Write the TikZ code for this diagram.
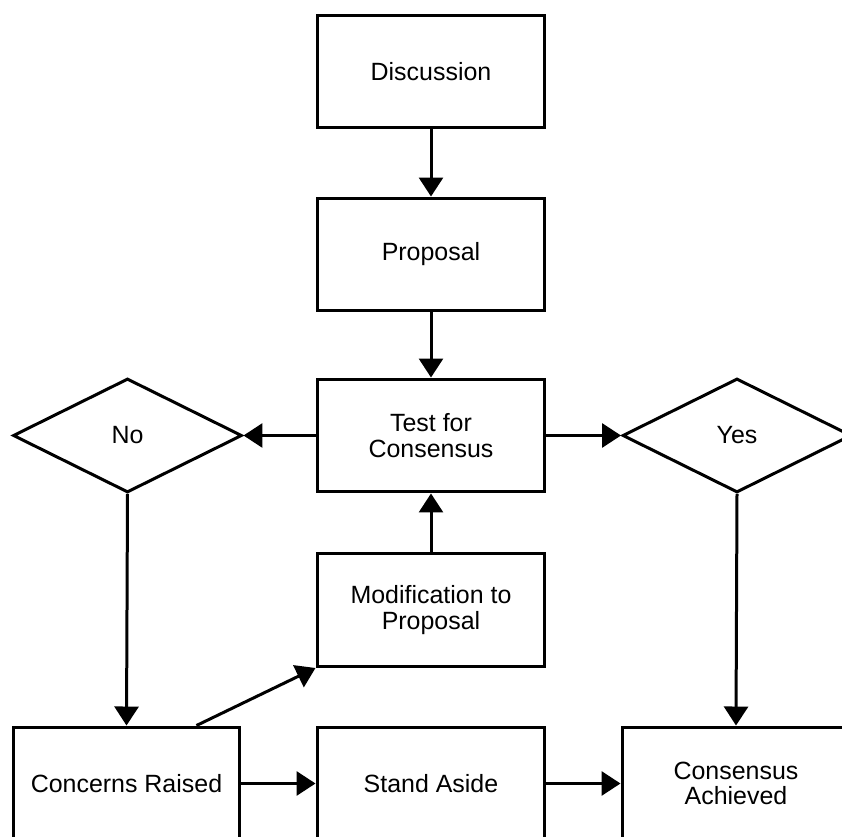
\documentclass[tikz,border=0pt]{standalone}
\usepackage{fontspec}
\setmainfont{Liberation Sans}
\usepackage{tikz}
\usetikzlibrary{positioning,shapes.geometric,arrows.meta}

\tikzset{
    stepbox/.style={draw=black, line width=0.06cm, fill=white, align=center,
        minimum width=4.56cm, minimum height=2.26cm, inner sep=2pt},
    choice/.style={draw=black, line width=0.06cm, fill=white, diamond, aspect=2,
        minimum width=4.58cm, minimum height=2.28cm, inner sep=1pt},
    flow/.style={line width=0.06cm, -{Triangle[length=0.38cm, width=0.48cm]}}
}

\begin{document}
\begin{tikzpicture}[x=0.02cm, y=-0.02cm,
    every node/.style={font=\fontsize{14.2pt}{14.4pt}\selectfont}]
    \clip (0,0) rectangle (842,837);
    % middle column
    \node[stepbox] (disc) at (431,71.5) {Discussion};
    \node[stepbox] (prop) at (431,254.5) {Proposal};
    \node[stepbox] (test) at (431,435.5) {Test for\\Consensus};
    \node[stepbox] (mod) at (431,610) {Modification to\\Proposal};
    % decisions
    \node[choice] (no) at (127.5,435.5) {No};
    \node[choice] (yes) at (737,435.5) {Yes};
    % bottom row
    \node[stepbox, minimum width=4.54cm] (concern) at (126.5,783.5) {Concerns Raised};
    \node[stepbox] (stand) at (431,783.5) {Stand Aside};
    \node[stepbox] (achieved) at (736,783.5) {Consensus\\Achieved};

    \draw[flow] (disc) -- (prop);
    \draw[flow] (prop) -- (test);
    \draw[flow] (test.west) -- (no.east);
    \draw[flow] (test.east) -- (yes.west);
    \draw[flow] (no.south) -- (concern.north);
    \draw[flow] (yes.south) -- (achieved.north);
    \draw[flow] (mod.north) -- (test.south);
    \draw[flow] ([xshift=-0.9cm]concern.north east) -- (mod.south west);
    \draw[flow] (concern.east) -- (stand.west);
    \draw[flow] (stand.east) -- (achieved.west);
\end{tikzpicture}
\end{document}
